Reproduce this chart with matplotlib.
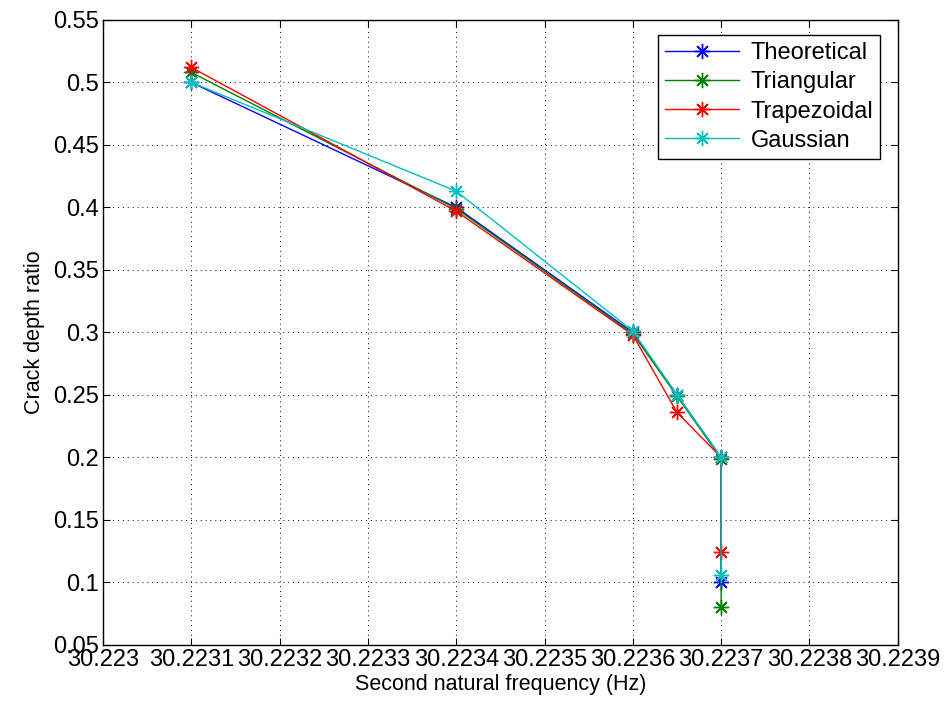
import matplotlib.pyplot as plt

plt.rcParams['font.family'] = ['Liberation Sans', 'DejaVu Sans']

# second natural frequency (Hz) for each crack depth
freq = [30.2231, 30.2234, 30.2236, 30.22365, 30.2237, 30.2237]
theoretical = [0.5, 0.4, 0.3, 0.25, 0.2, 0.1]
triangular = [0.508, 0.399, 0.299, 0.249, 0.199, 0.08]
trapezoidal = [0.512, 0.397, 0.298, 0.236, 0.2, 0.124]
gaussian = [0.5, 0.413, 0.301, 0.25, 0.2, 0.106]

xticks = [30.223, 30.2231, 30.2232, 30.2233, 30.2234, 30.2235,
          30.2236, 30.2237, 30.2238, 30.2239]
xticklabels = ['30.223', '30.2231', '30.2232', '30.2233', '30.2234',
               '30.2235', '30.2236', '30.2237', '30.2238', '30.2239']
yticks = [0.05, 0.1, 0.15, 0.2, 0.25, 0.3, 0.35, 0.4, 0.45, 0.5, 0.55]
yticklabels = ['0.05', '0.1', '0.15', '0.2', '0.25', '0.3', '0.35',
               '0.4', '0.45', '0.5', '0.55']

# plus-and-cross asterisk, like the classic matlab '*'
STAR = (8, 2, 0)


def main():
    fig = plt.figure(figsize=(9.45, 7.11), dpi=100)
    ax = fig.add_axes([0.109, 0.093, 0.841, 0.879])

    series = [
        ('Theoretical', theoretical, '#0000ff'),
        ('Triangular', triangular, '#008000'),
        ('Trapezoidal', trapezoidal, '#ff0000'),
        ('Gaussian', gaussian, '#00bfbf'),
    ]
    for name, vals, col in series:
        ax.plot(freq, vals, '-', marker=STAR, color=col, lw=1.0,
                markersize=11, markeredgewidth=1.0, label=name)

    ax.set_xlim(30.223, 30.2239)
    ax.set_ylim(0.05, 0.55)
    ax.set_xticks(xticks)
    ax.set_xticklabels(xticklabels)
    ax.set_yticks(yticks)
    ax.set_yticklabels(yticklabels)
    ax.tick_params(direction='in', top=True, right=True, labelsize=17,
                   length=5, width=0.8, pad=3)
    ax.grid(True, linestyle=(0, (1, 4)), color='black', linewidth=0.7)
    for sp in ax.spines.values():
        sp.set_linewidth(1.0)

    ax.set_xlabel('Second natural frequency (Hz)', fontsize=15.5, labelpad=2)
    ax.set_ylabel('Crack depth ratio', fontsize=15.5, labelpad=6)

    leg = ax.legend(loc='upper right', bbox_to_anchor=(0.984, 0.983),
                    fontsize=17, fancybox=False, edgecolor='black',
                    framealpha=1, handlelength=3.1, borderpad=0.3,
                    labelspacing=0.3, handletextpad=0.5,
                    borderaxespad=0.2)
    leg.get_frame().set_linewidth(1.0)

    fig.savefig('out.png', dpi=100)


if __name__ == "__main__":
    main()
